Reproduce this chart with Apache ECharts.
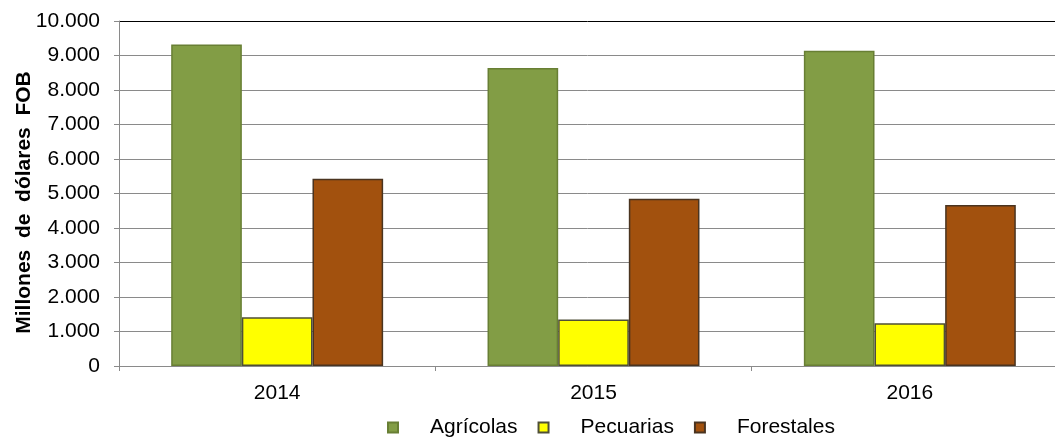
<!DOCTYPE html>
<html>
<head>
<meta charset="utf-8">
<script src="https://cdn.jsdelivr.net/npm/echarts@6/dist/echarts.min.js"></script>
<style>
  html, body { margin: 0; padding: 0; background: #fff; }
  #chart { width: 1055px; height: 438px; }
</style>
</head>
<body>
<div id="chart"></div>
<script>
// datos
const years = ['2014', '2015', '2016'];
const agricolas = [9320, 8640, 9140];
const pecuarias = [1410, 1350, 1240];
const forestales = [5430, 4850, 4670];

const chart = echarts.init(document.getElementById('chart'));

// formato con punto de miles
function miles(v) {
  return String(v).replace(/\B(?=(\d{3})+(?!\d))/g, '.');
}

const gridColors = ['#8a8a8a', '#8a8a8a', '#8a8a8a', '#8a8a8a', '#8a8a8a', '#8a8a8a',
  '#8a8a8a', '#8a8a8a', '#8a8a8a', '#8a8a8a', '#000'];

chart.setOption({
  animation: false,
  textStyle: { fontFamily: 'Liberation Sans, Arial, sans-serif' },
  grid: { left: 119, right: -13, top: 21, bottom: 72, outerBoundsMode: 'none' },
  legend: {
    left: 382,
    top: 412,
    icon: 'rect',
    itemWidth: 10,
    itemHeight: 10,
    itemGap: 20,
    textStyle: { fontSize: 21, color: '#000', padding: [0, 0, 0, 27] },
    data: ['Agrícolas', 'Pecuarias', 'Forestales']
  },
  xAxis: {
    type: 'category',
    data: years,
    axisLine: { lineStyle: { color: '#8a8a8a', width: 1 } },
    axisTick: { show: true, length: 5, lineStyle: { color: '#8a8a8a' } },
    axisLabel: { fontSize: 21, color: '#000', margin: 17 }
  },
  yAxis: {
    type: 'value',
    min: 0,
    max: 10000,
    interval: 1000,
    name: 'Millones  de  dólares  FOB',
    nameLocation: 'middle',
    nameGap: 84,
    nameMoveOverlap: false,
    nameTextStyle: { fontSize: 21, fontWeight: 'bold', color: '#000', padding: [0, 18, 0, 0] },
    axisLine: { show: true, lineStyle: { color: '#8a8a8a', width: 1 } },
    axisTick: { show: true, length: 5, lineStyle: { color: '#8a8a8a' } },
    axisLabel: { fontSize: 21, color: '#000', margin: 19, formatter: miles },
    splitLine: { lineStyle: { color: gridColors, width: 1 } }
  },
  series: [
    {
      name: 'Agrícolas',
      type: 'bar',
      data: agricolas,
      barGap: '0%',
      barCategoryGap: '33%',
      itemStyle: { color: '#829d45', borderColor: '#687f34', borderWidth: 1.5 }
    },
    {
      name: 'Pecuarias',
      type: 'bar',
      data: pecuarias,
      itemStyle: { color: '#ffff00', borderColor: '#4f4f36', borderWidth: 1.5 }
    },
    {
      name: 'Forestales',
      type: 'bar',
      data: forestales,
      itemStyle: { color: '#a2510e', borderColor: '#4a3420', borderWidth: 1.5 }
    }
  ]
});
</script>
</body>
</html>
